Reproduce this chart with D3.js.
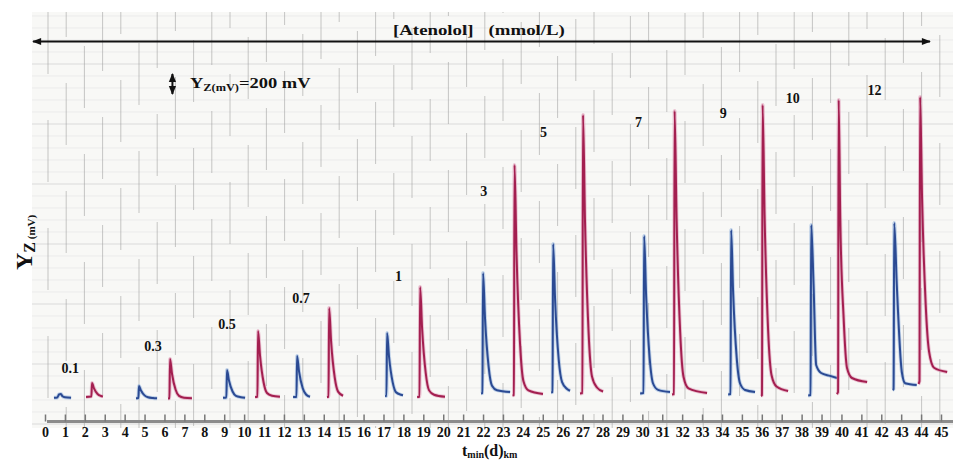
<!DOCTYPE html>
<html>
<head>
<meta charset="utf-8">
<title>Atenolol peaks</title>
<script src="https://d3js.org/d3.v7.min.js"></script>
<style>
body { margin: 0; background: #fff; }
text { font-family: "Liberation Serif", "Times New Roman", serif; font-weight: bold; fill: #111; }
</style>
</head>
<body>
<script>
// time axis tick labels (min)
var xTicks = [0,1,2,3,4,5,6,7,8,9,10,11,12,13,14,15,16,17,18,19,20,21,22,23,24,25,26,27,28,29,30,
              31,32,33,34,35,36,37,38,39,40,41,42,43,44,45];

// concentration of each pair of injections (mmol/L) and where its label sits (t, mV)
var concLabels = ["0.1","0.3","0.5","0.7","1","3","5","7","9","10","12"];
var concT  = [1.27, 5.43, 9.14, 12.86, 17.76, 22.03, 25.04, 29.81, 34.06, 37.55, 41.66];
var concMV = [208, 384, 560, 768, 944, 1624, 2096, 2176, 2248, 2368, 2432];

// blue traces, points as [t (min), Y (mV)]
var blueTraces = [
  [[0.45,10],[0.62,12],[0.70,36],[0.80,40],[0.88,22],[1.00,14],[1.31,10]],
  [[4.57,6],[4.69,8],[4.72,104],[4.82,68],[5.00,29],[5.17,14],[5.42,8],[5.63,6]],
  [[8.94,10],[9.11,12],[9.14,232],[9.24,148],[9.42,60],[9.59,25],[9.84,14],[10.05,10]],
  [[12.46,16],[12.63,16],[12.66,344],[12.76,219],[12.94,88],[13.11,36],[13.31,18]],
  [[17.08,24],[17.15,24],[17.18,528],[17.28,336],[17.46,135],[17.63,54],[17.88,34],[17.98,30]],
  [[21.90,44],[21.97,48],[22.00,1008],[22.10,643],[22.28,259],[22.45,106],[22.70,70],[23.36,56]],
  [[25.42,52],[25.49,56],[25.52,1240],[25.62,790],[25.80,316],[25.97,135],[26.22,80],[26.37,66]],
  [[29.89,44],[30.06,48],[30.09,1304],[30.19,827],[30.37,324],[30.54,124],[30.79,73],[31.39,56]],
  [[34.31,36],[34.43,40],[34.46,1352],[34.56,853],[34.74,329],[34.91,124],[35.16,72],[35.66,56]],
  [[38.33,28],[38.45,32],[38.48,1392],[38.60,912],[38.73,272],[38.98,208],[39.43,185],[39.78,168]],
  [[42.57,72],[42.62,80],[42.65,1408],[42.78,912],[43.03,218],[43.20,126],[43.78,112]]
];

// red traces
var redTraces = [
  [[2.06,16],[2.33,20],[2.36,128],[2.46,85],[2.64,40],[2.81,24],[2.91,20]],
  [[6.18,4],[6.25,6],[6.28,320],[6.38,200],[6.56,74],[6.73,25],[6.98,10],[7.38,6]],
  [[10.55,16],[10.67,18],[10.70,544],[10.80,345],[10.98,132],[11.15,48],[11.40,26],[11.80,18]],
  [[14.16,16],[14.24,18],[14.27,728],[14.37,457],[14.55,173],[14.72,59],[14.97,26]],
  [[18.69,16],[18.81,18],[18.84,896],[18.94,562],[19.12,210],[19.29,69],[19.54,34],[20.09,18]],
  [[23.48,28],[23.55,32],[23.58,1872],[23.68,1173],[23.86,437],[24.03,142],[24.28,69],[25.01,40]],
  [[26.87,44],[26.99,48],[27.02,2272],[27.12,1427],[27.30,537],[27.47,181],[27.72,92],[28.03,60]],
  [[31.49,36],[31.59,40],[31.62,2304],[31.72,1444],[31.90,538],[32.07,176],[32.32,85],[33.25,48]],
  [[35.96,24],[36.01,32],[36.04,2352],[36.14,1466],[36.32,540],[36.49,190],[36.74,100],[37.32,64]],
  [[39.76,40],[39.83,56],[39.86,2392],[39.94,1448],[40.11,648],[40.28,248],[40.53,168],[41.29,136]],
  [[43.87,120],[43.92,144],[43.95,2416],[44.05,1600],[44.23,760],[44.40,380],[44.65,250],[45.31,216]]
];

var width = 953, height = 460;

var x = d3.scaleLinear().domain([0, 45]).range([45, 941]);
var y = d3.scaleLinear().domain([0, 3000]).range([399, 24]);   // 200 mV = 25 px

var svg = d3.select("body").append("svg")
  .attr("width", width)
  .attr("height", height);

var defs = svg.append("defs");
defs.append("marker")
  .attr("id", "ah")
  .attr("viewBox", "0 0 10 10")
  .attr("refX", 9).attr("refY", 5)
  .attr("markerUnits", "userSpaceOnUse")
  .attr("markerWidth", 10).attr("markerHeight", 9)
  .attr("orient", "auto-start-reverse")
  .append("path")
  .attr("d", "M0,1L10,5L0,9z")
  .attr("fill", "#111");

// chart paper
svg.append("rect")
  .attr("x", 32).attr("y", 12)
  .attr("width", width - 32).attr("height", 416)
  .attr("fill", "#f8f8f6");

var paper = svg.append("g");
paper.selectAll(".hfine")
  .data(d3.range(-200, 3100, 96))
  .enter().append("line")
  .attr("x1", 32).attr("x2", width)
  .attr("y1", function(d) { return y(d); })
  .attr("y2", function(d) { return y(d); })
  .attr("stroke", function(d, i) { return i % 5 == 0 ? "#dadada" : "#ebebeb"; })
  .attr("stroke-width", 1);

// recorder paper has its own vertical rulings, a bit tighter than the time labels
var px = d3.scaleLinear().domain([0, 1]).range([48, 66.2]);
paper.selectAll(".vrule")
  .data(d3.range(0, 50))
  .enter().append("line")
  .attr("x1", function(d) { return px(d); })
  .attr("x2", function(d) { return px(d); })
  .attr("y1", 12).attr("y2", 428)
  .attr("stroke", "#9a9a9a")
  .attr("stroke-width", 1)
  .attr("stroke-opacity", 0.55)
  .attr("stroke-dasharray", "62,46")
  .attr("stroke-dashoffset", function(d) { return (d * 37) % 108; });

// time axis
svg.append("line")
  .attr("x1", 47).attr("x2", width)
  .attr("y1", 421.5).attr("y2", 421.5)
  .attr("stroke", "#8c8c8c")
  .attr("stroke-width", 3);

var xAxis = svg.append("g")
  .attr("transform", "translate(0,421.5)")
  .call(d3.axisBottom(x)
    .tickValues(xTicks)
    .tickFormat(d3.format("d"))
    .tickSizeInner(-7)
    .tickSizeOuter(0)
    .tickPadding(6));
xAxis.select(".domain").remove();
xAxis.selectAll(".tick line").attr("stroke", "#777").attr("stroke-width", 1.5);
xAxis.selectAll(".tick text")
  .attr("fill", "#111")
  .style("font-family", "'Liberation Serif', serif")
  .style("font-weight", "bold")
  .style("font-size", "14px");

// traces
var line = d3.line()
  .x(function(d) { return x(d[0]); })
  .y(function(d) { return y(d[1]); })
  .curve(d3.curveMonotoneX);

function drawTraces(data, halo, core) {
  var g = svg.append("g");
  g.selectAll(".halo")
    .data(data)
    .enter().append("path")
    .attr("d", line)
    .attr("fill", "none")
    .attr("stroke", halo)
    .attr("stroke-width", 3.8)
    .attr("stroke-opacity", 0.45)
    .attr("stroke-linejoin", "round");
  g.selectAll(".core")
    .data(data)
    .enter().append("path")
    .attr("d", line)
    .attr("fill", "none")
    .attr("stroke", core)
    .attr("stroke-width", 2)
    .attr("stroke-linejoin", "round");
}
drawTraces(blueTraces, "#7ea6da", "#2b4a93");
drawTraces(redTraces, "#d97fa5", "#a31f50");

// concentration labels
svg.selectAll(".conc")
  .data(concLabels)
  .enter().append("text")
  .attr("x", function(d, i) { return x(concT[i]); })
  .attr("y", function(d, i) { return y(concMV[i]); })
  .attr("text-anchor", "middle")
  .style("font-size", "14px")
  .text(function(d) { return d; });

// squeeze/stretch a text block to the width it has on the scan
function fitWidth(t, x0, y0, w) {
  var bw = t.node().getBBox().width;
  t.attr("transform", "translate(" + x0 + "," + y0 + ") scale(" + (w / bw) + ",1)");
}

// concentration arrow across the top
svg.append("line")
  .attr("x1", 33).attr("x2", 930)
  .attr("y1", 41.5).attr("y2", 41.5)
  .attr("stroke", "#111")
  .attr("stroke-width", 2)
  .attr("marker-start", "url(#ah)")
  .attr("marker-end", "url(#ah)");

var title = svg.append("text").style("font-size", "15px");
title.append("tspan").text("[Atenolol]");
title.append("tspan").attr("dx", 12).text("(mmol/L)");
fitWidth(title, 393, 35, 172);

// 200 mV scale marker
var sx = 6.40;
svg.append("line")
  .attr("x1", x(sx)).attr("x2", x(sx))
  .attr("y1", y(2440)).attr("y2", y(2600))
  .attr("stroke", "#111")
  .attr("stroke-width", 2)
  .attr("marker-start", "url(#ah)")
  .attr("marker-end", "url(#ah)");

var scaleTxt = svg.append("text").style("font-size", "15px");
scaleTxt.append("tspan").text("Y");
scaleTxt.append("tspan").attr("dy", 3).style("font-size", "10px").text("Z(mV)");
scaleTxt.append("tspan").attr("dy", -3).text("=200 mV");
fitWidth(scaleTxt, 190, 88, 121);

// y axis title
var yTitle = svg.append("text")
  .attr("transform", "translate(32,270) rotate(-90)");
yTitle.append("tspan").style("font-size", "24px").text("Y");
yTitle.append("tspan").attr("dy", 3).style("font-size", "16px").text("Z");
yTitle.append("tspan").style("font-size", "11px").text(" (mV)");

// x axis title
var xTitle = svg.append("text")
  .attr("x", 462).attr("y", 456);
xTitle.append("tspan").style("font-size", "16px").text("t");
xTitle.append("tspan").attr("dy", 1.5).style("font-size", "10px").text("min");
xTitle.append("tspan").attr("dy", -1.5).style("font-size", "16px").text("(d)");
xTitle.append("tspan").attr("dy", 1.5).style("font-size", "10px").text("km");
</script>
</body>
</html>
